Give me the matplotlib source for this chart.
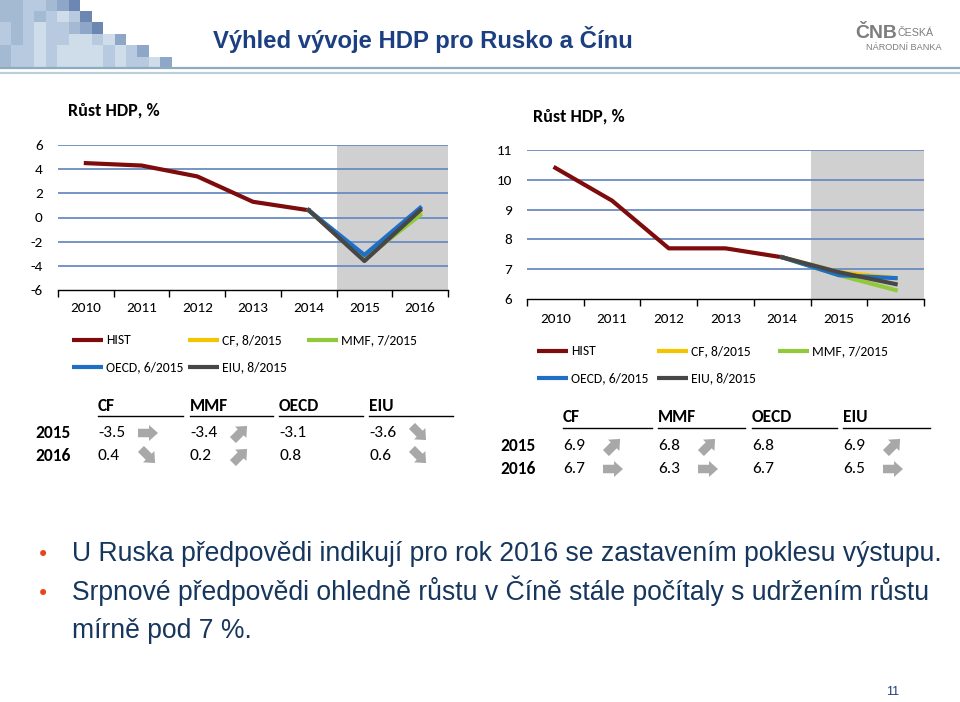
import numpy as np
import matplotlib
matplotlib.use('Agg')
import matplotlib.pyplot as plt
from matplotlib import font_manager as fm
from matplotlib.patches import Rectangle, FancyArrow

# data
years = ['2010', '2011', '2012', '2013', '2014', '2015', '2016']
series_names = ['HIST', 'CF, 8/2015', 'MMF, 7/2015', 'OECD, 6/2015', 'EIU, 8/2015']
sources = ['CF', 'MMF', 'OECD', 'EIU']

ru_hist = [4.5, 4.3, 3.4, 1.3, 0.6]
ru_2015 = [-3.5, -3.4, -3.1, -3.6]
ru_2016 = [0.4, 0.2, 0.8, 0.6]
ru_arrow_2015 = ['right', 'up', None, 'down']
ru_arrow_2016 = ['down', 'up', None, 'down']

cn_hist = [10.4, 9.3, 7.7, 7.7, 7.4]
cn_2015 = [6.9, 6.8, 6.8, 6.9]
cn_2016 = [6.7, 6.3, 6.7, 6.5]
cn_arrow_2015 = ['up', 'up', None, 'up']
cn_arrow_2016 = ['right', 'right', None, 'right']

bullet_lines = ['U Ruska předpovědi indikují pro rok 2016 se zastavením poklesu výstupu.',
                'Srpnové předpovědi ohledně růstu v Číně stále počítaly s udržením růstu',
                'mírně pod 7 %.']

colors = ['#7f0c0c', '#f5c400', '#92c93a', '#1f6fc6', '#474747']

names = {f.name for f in fm.fontManager.ttflist}
narrow = 'Liberation Sans Narrow' if 'Liberation Sans Narrow' in names else 'Liberation Sans'
cfont = 'Carlito' if 'Carlito' in names else 'Lato'
plt.rcParams['font.family'] = [cfont, 'DejaVu Sans']
plt.rcParams['axes.unicode_minus'] = False

fig = plt.figure(figsize=(9.6, 7.02), dpi=100)
W, H = 960, 702
renderer = fig.canvas.get_renderer()

# overlay in pixel coordinates
ov = fig.add_axes([0, 0, 1, 1])
ov.set_xlim(0, W)
ov.set_ylim(H, 0)
ov.axis('off')


def fit(x, y, s, width, **kw):
    # size the text so it spans the same width as in the slide
    t = ov.text(x, y, s, **kw)
    w = t.get_window_extent(renderer).width
    t.set_fontsize(t.get_fontsize() * width / w)
    return t


# header mosaic
pal = ['#cfdcea', '#b7cadf', '#a4bad3', '#8ea7c8', '#6c88b2']
rows = [(0, 11, "2211234"), (11, 22, "22121014"), (22, 34, "121011234"),
        (34, 45, "12101100103"), (45, 57, "2110100001013"), (57, 67, "211010000101103")]
cw = 11.45
for y0, y1, pat in rows:
    for i, c in enumerate(pat):
        ov.add_patch(Rectangle((i * cw, y0), cw, y1 - y0, color=pal[int(c)], lw=0))
ov.plot([0, W], [68, 68], color='#8eacc0', lw=1.6)
ov.plot([0, W], [72.5, 72.5], color='#bcd0dc', lw=1.6)

fit(213, 48, 'Výhled vývoje HDP pro Rusko a Čínu', 420, family=[narrow, 'DejaVu Sans'],
    fontsize=20, fontweight='bold', color='#1b3f80', va='baseline')

# logo
fit(855, 42, 'ČNB', 42, family=[narrow, 'DejaVu Sans'], fontsize=20, color='#7d7d7d',
    va='bottom', fontweight='bold')
fit(898, 38, 'ČESKÁ', 36, family=[narrow, 'DejaVu Sans'], fontsize=7, color='#7d7d7d', va='bottom')
fit(866, 43, 'NÁRODNÍ BANKA', 75, family=[narrow, 'DejaVu Sans'], fontsize=7, color='#7d7d7d',
    va='top')


def chart(px, hist, f15, f16, ylim, yticks, title, tpos, lpad):
    x0, x1, yt, yb = px
    ax = fig.add_axes([x0 / W, 1 - yb / H, (x1 - x0) / W, (yb - yt) / H])
    ax.set_facecolor('none')
    x = np.arange(len(years))
    ax.axvspan(4.5, 6.5, color='#d0d0d0', lw=0, zorder=0)
    for v in yticks[1:]:
        ax.axhline(v, color='#6a8cc2', lw=1.3, zorder=1)
    ax.plot(x[:5], hist, color=colors[0], lw=3, zorder=3)
    for i in range(len(sources)):
        ax.plot(x[4:], [hist[-1], f15[i], f16[i]], color=colors[i + 1], lw=3, zorder=3)
    ax.set_xlim(-0.5, 6.5)
    ax.set_ylim(*ylim)
    ax.set_yticks(yticks)
    ax.set_xticks(np.arange(-0.5, 7, 1))
    ax.set_xticklabels([])
    ax.set_xticks(x, minor=True)
    ax.set_xticklabels(years, minor=True, fontsize=11)
    ax.tick_params(axis='x', which='major', length=5, width=1, direction='out')
    ax.tick_params(axis='x', which='minor', length=0, pad=lpad)
    ax.tick_params(axis='y', length=0, pad=11, labelsize=11)
    for s in ['left', 'right', 'top']:
        ax.spines[s].set_visible(False)
    ax.spines['bottom'].set_color('black')
    ax.spines['bottom'].set_linewidth(1)
    ov.text(tpos[0], tpos[1], title, fontsize=13, fontweight='bold', va='center')
    return ax


chart((58, 448, 145, 290), ru_hist, ru_2015, ru_2016, (-6, 6), np.arange(-6, 7, 2),
      'Růst HDP, %', (68, 111), 9)
chart((527, 924, 150, 299), cn_hist, cn_2015, cn_2016, (6, 11), np.arange(6, 12, 1),
      'Růst HDP, %', (533, 116), 10)


def legend(pos):
    for name, col, (lx, ly) in zip(series_names, colors, pos):
        ov.plot([lx, lx + 31], [ly, ly], color=col, lw=3, solid_capstyle='butt')
        ov.text(lx + 34, ly, name, fontsize=9.8, va='center')


legend([(72, 340), (188, 340), (307, 340), (72, 367), (188, 367)])
legend([(537, 351), (657, 351), (778, 351), (537, 378), (657, 378)])


def arrow(cx, cy, d, L=20):
    a = {'right': 0, 'up': 45, 'down': -45}[d]
    ux, uy = np.cos(np.radians(a)), -np.sin(np.radians(a))
    ov.add_patch(FancyArrow(cx - ux * L / 2, cy - uy * L / 2, ux * L, uy * L, width=8.5,
                            head_width=16, head_length=9, length_includes_head=True,
                            color='#a8a8a8', lw=0))


def table(lab_x, cols, ends, hy, uy, ry, v15, v16, a15, a16):
    for c, e, s in zip(cols, ends, sources):
        ov.text(c, hy, s, fontsize=12.5, fontweight='bold', va='center')
        ov.plot([c, e], [uy, uy], color='black', lw=1)
    for yy, lab, vals, arrs in [(ry[0], '2015', v15, a15), (ry[1], '2016', v16, a16)]:
        ov.text(lab_x, yy, lab, fontsize=12.5, fontweight='bold', va='center')
        for c, v, d in zip(cols, vals, arrs):
            ov.text(c, yy, f'{v:.1f}', fontsize=12.5, va='center')
            if d:
                arrow(c + 50, yy, d)


table(35, [98, 190, 279, 369], [183, 273, 363, 453], 406, 416, (433, 456),
      ru_2015, ru_2016, ru_arrow_2015, ru_arrow_2016)
table(500, [563, 658, 752, 843], [652, 745, 837, 930], 417, 428, (446, 469),
      cn_2015, cn_2016, cn_arrow_2015, cn_arrow_2016)

# bullets
t1 = fit(72, 561, bullet_lines[0], 868, family=[narrow, 'DejaVu Sans'], fontsize=20,
         color='#17365d', va='baseline')
fs = t1.get_fontsize()
for s, yb in zip(bullet_lines[1:], [600, 638]):
    ov.text(72, yb, s, family=[narrow, 'DejaVu Sans'], fontsize=fs, color='#17365d', va='baseline')
for yb in [561, 600]:
    ov.text(37, yb, '•', fontsize=15, color='#e8441c', va='baseline', family='DejaVu Sans')

ov.text(893, 692, '11', fontsize=9, color='#1b3f80', ha='center', va='center',
        family=[narrow, 'DejaVu Sans'])

fig.savefig('out.png', dpi=100)
